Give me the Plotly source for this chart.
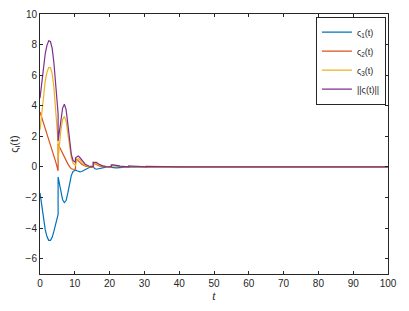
import plotly.graph_objects as go

# time samples (duplicated times mark the impulsive jumps)
t = [0, 0.5, 1, 1.5, 2, 2.5, 3, 3.5, 4, 4.5, 5.2, 5.2, 5.6, 6, 6.5, 7, 7.5, 8, 8.5, 9, 9.5,
     10.2, 10.2, 10.6, 11, 11.5, 12, 13, 14, 15.3, 15.3, 15.7, 16.2, 17, 18, 19,
     20.5, 20.5, 21, 22, 23, 25.5, 25.5, 26.5, 28, 30.5, 30.5, 32, 35, 40, 50, 60, 70, 80, 90, 100]

s1 = [-1.7, -2.6, -3.4, -4.1, -4.55, -4.8, -4.8, -4.6, -4.2, -3.7, -3.1, -0.65, -1.2, -1.7, -2.15, -2.33, -2.2, -1.7, -1.1, -0.55, -0.3,
      -0.22, -0.2, -0.25, -0.3, -0.32, -0.3, -0.15, -0.05, 0.0, 0.0, -0.1, -0.15, -0.1, -0.04, -0.01,
      0.0, 0.0, -0.05, -0.06, -0.03, 0.0, 0.0, -0.02, -0.01, 0.0, 0.0, 0.0, 0.0, 0.0, 0.0, 0.0, 0.0, 0.0, 0.0, 0.0]

s2 = [3.6, 3.25, 2.9, 2.5, 2.15, 1.8, 1.45, 1.1, 0.75, 0.35, -0.25, 1.5, 1.3, 1.1, 0.85, 0.6, 0.4, 0.2, 0.02, -0.12, -0.15,
      -0.15, 0.55, 0.5, 0.4, 0.28, 0.18, 0.05, 0.0, -0.02, 0.28, 0.22, 0.15, 0.07, 0.02, 0.0,
      0.0, 0.12, 0.09, 0.05, 0.02, 0.0, 0.05, 0.03, 0.01, 0.0, 0.02, 0.01, 0.0, 0.0, 0.0, 0.0, 0.0, 0.0, 0.0, 0.0]

s3 = [2.4, 3.5, 4.7, 5.6, 6.2, 6.5, 6.5, 6.1, 5.2, 3.8, 1.6, 0.5, 1.5, 2.4, 3.1, 3.3, 3.0, 2.2, 1.3, 0.6, 0.25,
      0.1, 0.1, 0.45, 0.55, 0.45, 0.3, 0.1, 0.03, 0.0, 0.05, 0.2, 0.22, 0.12, 0.05, 0.02,
      0.0, 0.0, 0.08, 0.07, 0.03, 0.0, 0.0, 0.03, 0.01, 0.0, 0.0, 0.0, 0.0, 0.0, 0.0, 0.0, 0.0, 0.0, 0.0, 0.0]

snorm = [4.5, 5.5, 6.5, 7.4, 7.95, 8.25, 8.2, 7.75, 6.8, 5.4, 3.5, 1.7, 2.3, 3.1, 3.85, 4.1, 3.75, 2.8, 1.7, 0.82, 0.42,
         0.3, 0.6, 0.68, 0.72, 0.6, 0.45, 0.18, 0.06, 0.02, 0.3, 0.32, 0.3, 0.18, 0.07, 0.03,
         0.01, 0.13, 0.14, 0.1, 0.05, 0.01, 0.06, 0.05, 0.02, 0.01, 0.03, 0.02, 0.01, 0.0, 0.0, 0.0, 0.0, 0.0, 0.0, 0.0]

names = ["ς<sub>1</sub>(t)", "ς<sub>2</sub>(t)", "ς<sub>3</sub>(t)", "||ς(t)||"]
colors = ["#0072BD", "#D95319", "#EDB120", "#7E2F8E"]
series = [s1, s2, s3, snorm]

x_ticks = [0, 10, 20, 30, 40, 50, 60, 70, 80, 90, 100]
y_ticks = [-6, -4, -2, 0, 2, 4, 6, 8, 10]

fig = go.Figure()
for name, col, ys in zip(names, colors, series):
    fig.add_trace(go.Scatter(x=t, y=ys, mode="lines", name=name,
                             line=dict(color=col, width=1.2)))

axis_common = dict(showline=True, linecolor="#262626", linewidth=1, mirror="ticks",
                   ticks="inside", ticklen=3, tickcolor="#262626", showgrid=False,
                   zeroline=False, automargin=False,
                   tickfont=dict(family="Liberation Sans, Arial", size=10, color="#262626"))

# page body has an 8px margin, so the figure is sized to fit inside it
fig.update_layout(
    template="none",
    width=393, height=295,
    margin=dict(l=32, r=13, t=6, b=29),
    paper_bgcolor="white", plot_bgcolor="white",
    font=dict(family="Liberation Sans, Arial", color="#262626"),
    xaxis=dict(range=[0, 100], tickvals=x_ticks,
               title=dict(text="<i>t</i>", font=dict(size=12, family="Liberation Serif, Times New Roman"), standoff=2),
               **axis_common),
    yaxis=dict(range=[-7, 10], tickvals=y_ticks,
               title=dict(text="ς<sub>i</sub>(t)", font=dict(size=11), standoff=8),
               **axis_common),
    legend=dict(x=0.994, y=0.99, xanchor="right", yanchor="top",
                bordercolor="#262626", borderwidth=1, bgcolor="white",
                font=dict(size=9, color="#262626"), tracegroupgap=0),
)

fig.write_html("out.html")
